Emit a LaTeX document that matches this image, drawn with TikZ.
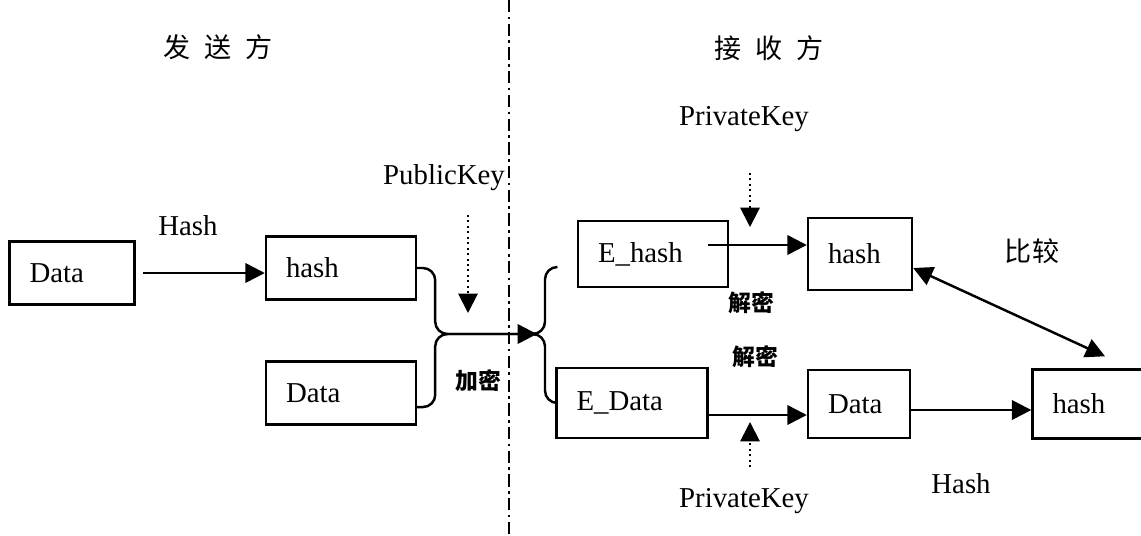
\documentclass[tikz,border=0pt]{standalone}
\usepackage{fontspec}
\setmainfont{Liberation Serif}
\newfontfamily\cjk{Noto Sans CJK SC}
\usetikzlibrary{shapes, arrows.meta, positioning, calc}

\begin{document}
\begin{tikzpicture}[x=0.02cm, y=-0.02cm,
    box/.style={draw, line width=1.4pt, minimum height=1.3cm, inner xsep=0.4cm, align=left,
      font=\fontsize{16.4}{18}\selectfont},
    lbl/.style={font=\fontsize{16.4}{18}\selectfont},
    zh/.style={font=\fontsize{15.4}{18}\selectfont\cjk},
    zhs/.style={font=\fontsize{13}{15}\selectfont\cjk\bfseries},
    arr/.style={line width=1.4pt, -{Triangle[length=11pt, width=11pt]}},
    dbl/.style={line width=1.4pt, {Triangle[length=11pt, width=11pt]}-{Triangle[length=11pt, width=11pt]}},
    keyarr/.style={dotted, line width=1.1pt, -{Triangle[length=11pt, width=11pt]}},
    conn/.style={line width=1.4pt, rounded corners=7pt}]
  \useasboundingbox (0,0) rectangle (1141,535);

  % sender side
  \node[box, text width=1.7cm, minimum height=1.26cm] (dataA) at (72,273) {Data};
  \node[box, text width=2.2cm, minimum height=1.26cm] (hashA) at (341,268) {hash};
  \node[box, text width=2.2cm, minimum height=1.26cm] (dataB) at (341,393) {Data};

  % receiver side
  \node[box, text width=2.2cm, minimum height=1.32cm] (ehash) at (653,254) {E\_hash};
  \node[box, text width=1.28cm, minimum height=1.44cm] (hashB) at (860,254) {hash};
  \node[box, text width=2.22cm, minimum height=1.4cm] (edata) at (632,403) {E\_Data};
  \node[box, text width=1.24cm, minimum height=1.36cm] (dataC) at (859,404) {Data};
  \node[box, text width=1.5cm, minimum height=1.38cm] (hashC) at (1090,404) {hash};

  % titles and labels
  \node[zh] (sender) at (218,47) {发\hspace{0.28cm}送\hspace{0.28cm}方};
  \node[zh] (receiver) at (769,48) {接\hspace{0.28cm}收\hspace{0.28cm}方};
  \node[lbl] (hashLblA) at (188,226) {Hash};
  \node[lbl] (pubkey) at (444,178) {PublicKey};
  \node[zhs] (enc) at (478,381) {加密};
  \node[lbl] (privA) at (744,119) {PrivateKey};
  \node[zhs] (decA) at (751,303) {解密};
  \node[zhs] (decB) at (755,357) {解密};
  \node[lbl] (privB) at (744,501) {PrivateKey};
  \node[lbl] (hashLblB) at (961,484) {Hash};
  \node[zh] (cmp) at (1032,251) {比较};

  % divider
  \draw[line width=1.3pt, dash pattern=on 7pt off 2.5pt on 1.5pt off 2.5pt] (509,0) -- (509,535);

  % hashing
  \draw[arr] ([xshift=4pt]dataA.east) -- (hashA.west |- dataA.east);

  % encryption
  \coordinate (mR) at (537,334);
  \draw[conn, -{Triangle[length=11pt, width=11pt]}] (hashA.east) -- ++(18,0) |- (mR);
  \draw[conn] ([yshift=-8]dataB.east) -- ++(18,0) |- (mR);
  \draw[conn] (mR) -| ++(8,-67) -- ++(12,0);
  \draw[conn] (mR) -| ++(8,69) -- ++(12,0);
  \coordinate (pubTop) at (468,215);
  \coordinate (pubTip) at (468,313);
  \draw[keyarr] (pubTop) -- (pubTip);

  % decryption
  \coordinate (ehOut) at ([shift={(-21,-9)}]ehash.east);
  \draw[arr] (ehOut) -- (ehOut -| hashB.west);
  \coordinate (privTopA) at (750,173);
  \coordinate (privTipA) at (750,227);
  \draw[keyarr] (privTopA) -- (privTipA);
  \coordinate (edOut) at ([shift={(0,12)}]edata.east);
  \draw[arr] (edOut) -- (edOut -| dataC.west);
  \coordinate (privTopB) at (750,467);
  \coordinate (privTipB) at (750,422);
  \draw[keyarr] (privTopB) -- (privTipB);

  % hash and compare
  \coordinate (dcOut) at ([shift={(0,6)}]dataC.east);
  \draw[arr] (dcOut) -- (dcOut -| hashC.west);
  \draw[dbl] ([shift={(0,14)}]hashB.east) -- ([shift={(15,-12)}]hashC.north);
\end{tikzpicture}
\end{document}
